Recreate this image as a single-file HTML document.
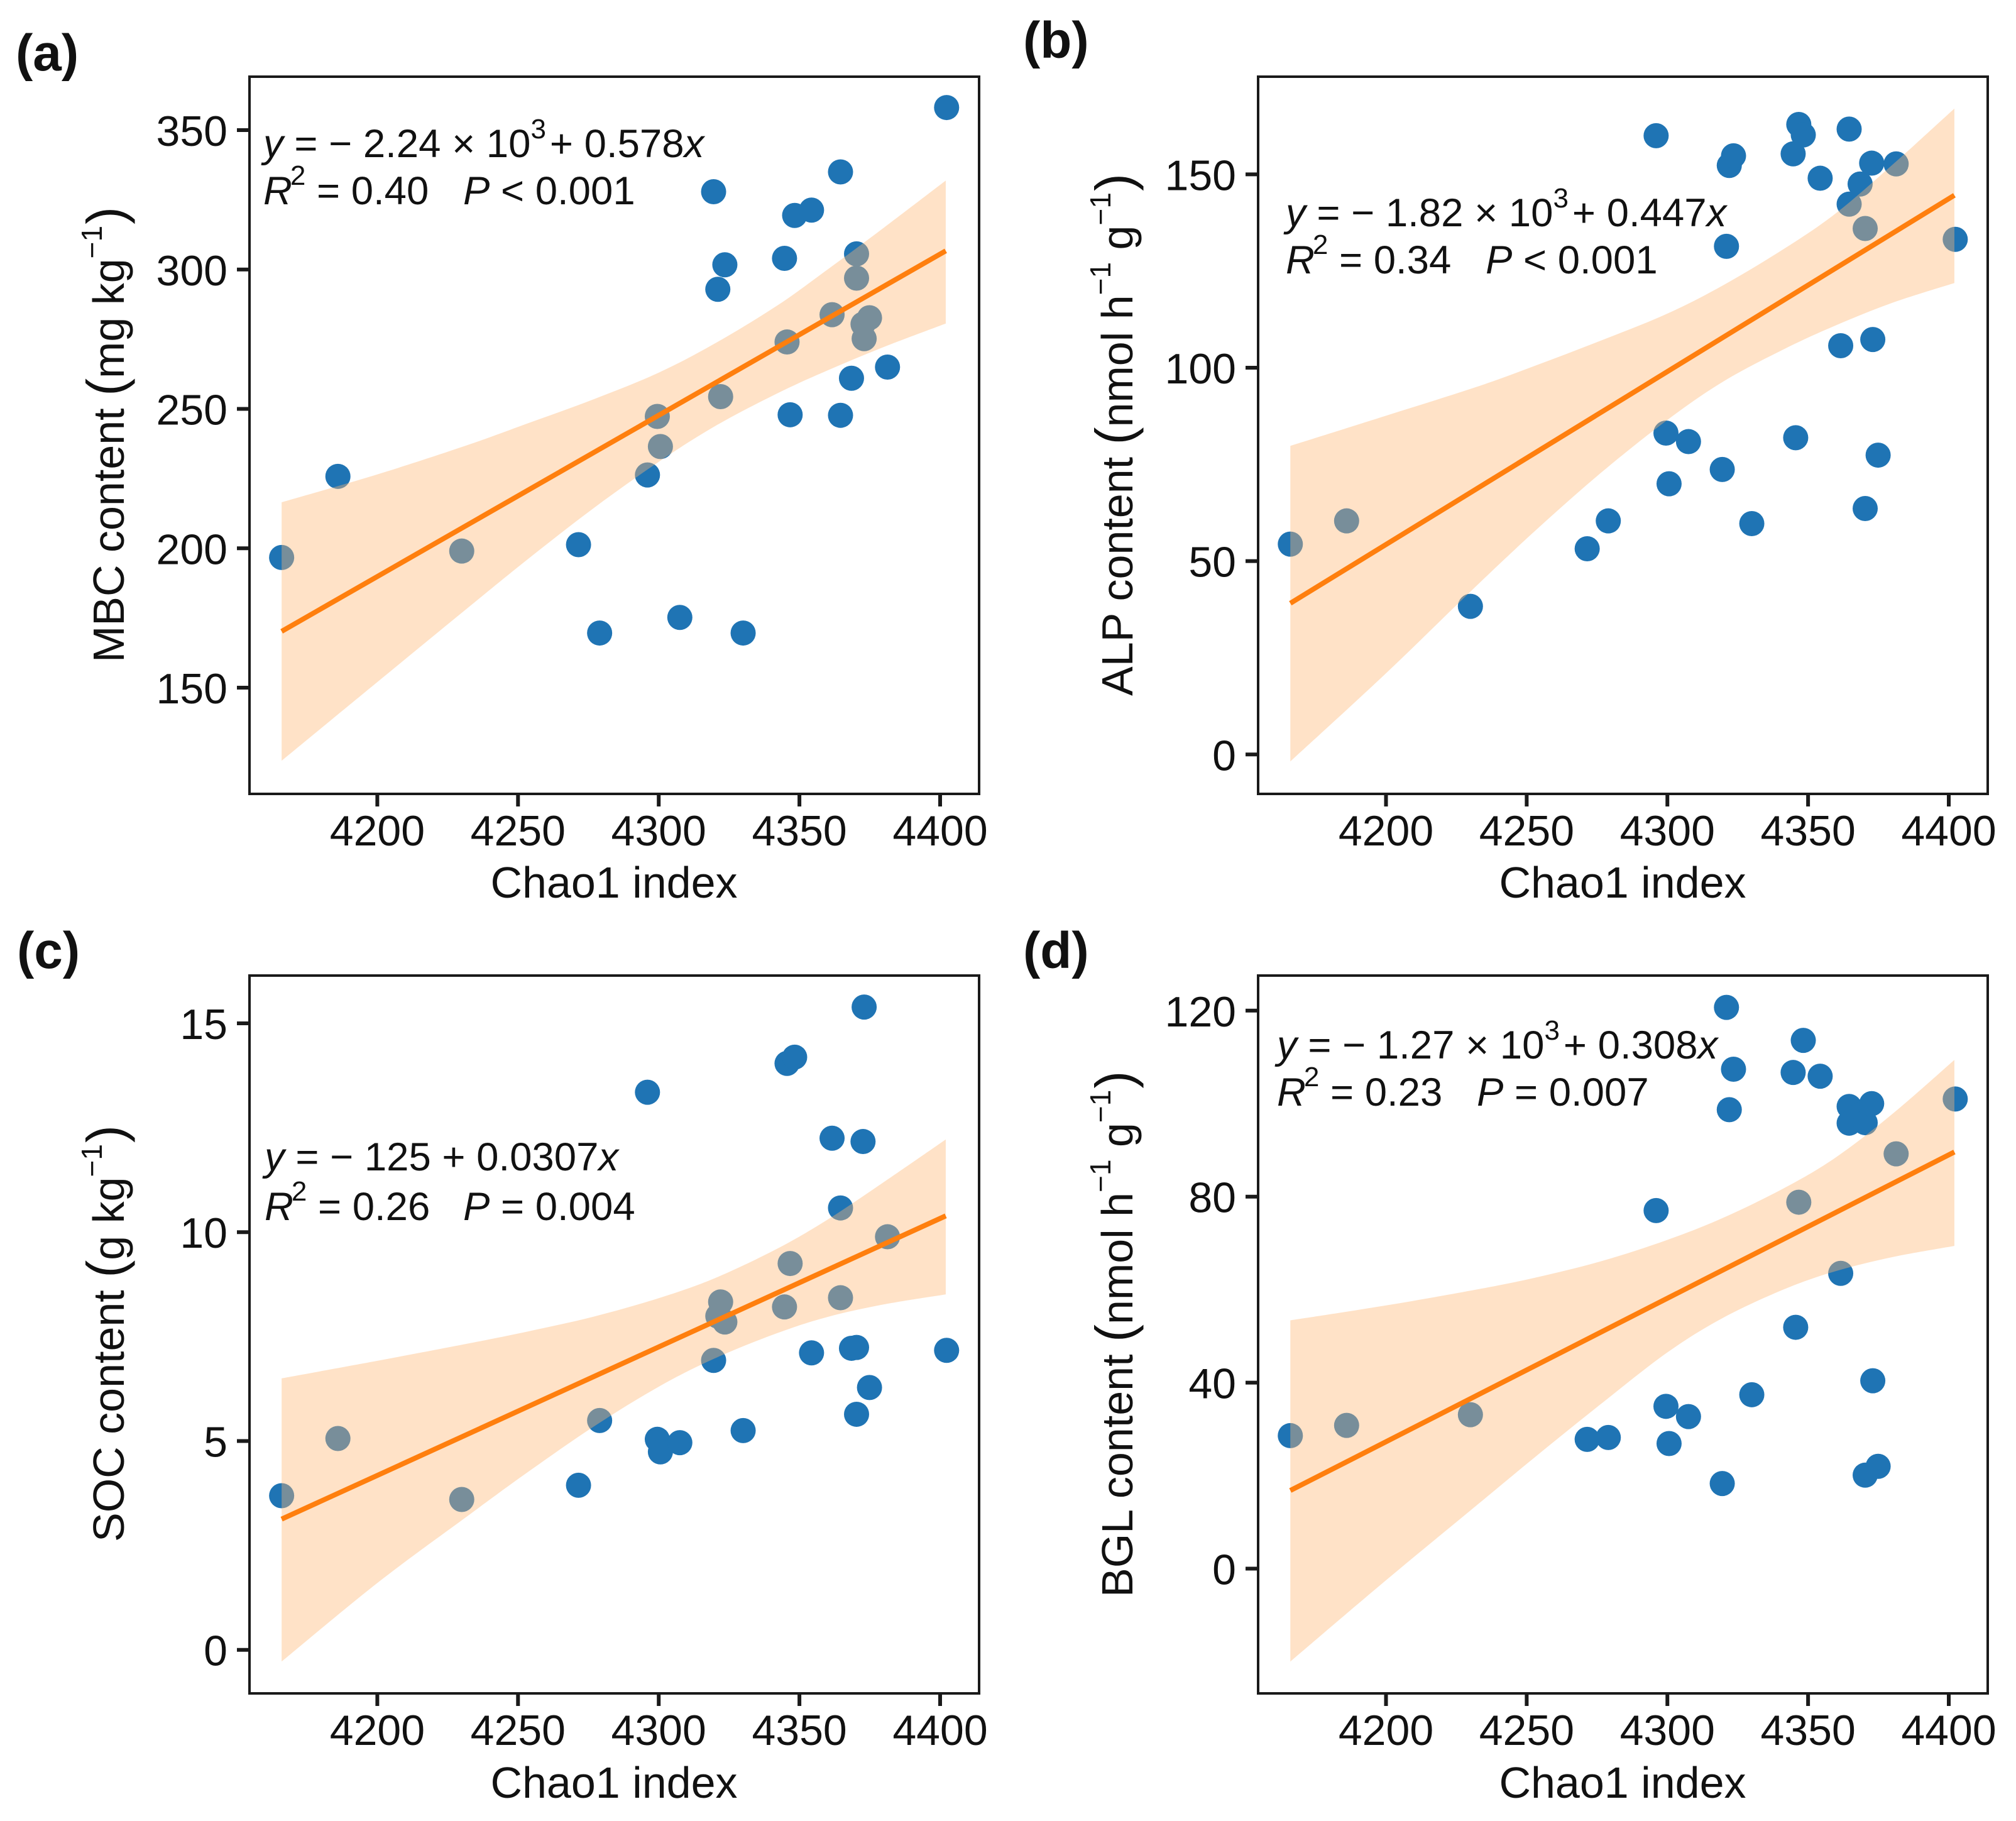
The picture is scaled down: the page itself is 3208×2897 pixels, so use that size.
<!DOCTYPE html>
<html lang="en">
<head>
<meta charset="utf-8">
<title>Chao1 index regressions</title>
<style>
html,body{margin:0;padding:0;background:#fff;}
svg{display:block;}
text{font-family:"Liberation Sans",Arial,sans-serif;fill:#111;}
.tick{font-size:68px;}
.axl{font-size:70px;}
.eq{font-size:63.5px;}
.let{font-size:82px;font-weight:bold;}
.i{font-style:italic;}
.sup{font-size:44px;}
.asup{font-size:46px;}
.par{font-size:84px;}
</style>
</head>
<body>
<svg id="chart" xmlns="http://www.w3.org/2000/svg" width="3208" height="2897" viewBox="0 0 3208 2897">
<rect width="3208" height="2897" fill="#fff"/>

<g id="panel-a"></g>
<g id="panel-b"></g>
<g id="panel-c"></g>
<g id="panel-d"></g>

<text class="let" x="25" y="112">(a)</text>
<text class="let" x="1628" y="92">(b)</text>
<text class="let" x="27" y="1540">(c)</text>
<text class="let" x="1628" y="1540">(d)</text>

<text class="axl" x="977" y="1428" text-anchor="middle">Chao1 index</text>
<text class="axl" x="2582" y="1428" text-anchor="middle">Chao1 index</text>
<text class="axl" x="977" y="2860" text-anchor="middle">Chao1 index</text>
<text class="axl" x="2582" y="2860" text-anchor="middle">Chao1 index</text>

<text class="axl" transform="translate(197,1054) rotate(-90)">MBC content <tspan class="par">(</tspan>mg kg<tspan class="asup" dy="-35">−1</tspan><tspan class="par" dy="35" dx="2">)</tspan></text>
<text class="axl" transform="translate(1802,1107) rotate(-90)">ALP content <tspan class="par">(</tspan>nmol h<tspan class="asup" dy="-35">−1</tspan><tspan dy="35"> g</tspan><tspan class="asup" dy="-35">−1</tspan><tspan class="par" dy="35" dx="2">)</tspan></text>
<text class="axl" transform="translate(197,2453) rotate(-90)">SOC content <tspan class="par">(</tspan>g kg<tspan class="asup" dy="-35">−1</tspan><tspan class="par" dy="35" dx="2">)</tspan></text>
<text class="axl" transform="translate(1802,2541) rotate(-90)">BGL content <tspan class="par">(</tspan>nmol h<tspan class="asup" dy="-35">−1</tspan><tspan dy="35"> g</tspan><tspan class="asup" dy="-35">−1</tspan><tspan class="par" dy="35" dx="2">)</tspan></text>

<text class="eq" x="419" y="250"><tspan class="i">y</tspan> = − 2.24 × 10<tspan class="sup" dy="-30">3</tspan><tspan dy="30" dx="6">+ 0.578</tspan><tspan class="i">x</tspan></text>
<text class="eq" x="419" y="325"><tspan class="i">R</tspan><tspan class="sup" dy="-31" dx="-3">2</tspan><tspan dy="31"> = 0.40</tspan><tspan class="i" x="737">P</tspan> &lt; 0.001</text>

<text class="eq" x="2046" y="360"><tspan class="i">y</tspan> = − 1.82 × 10<tspan class="sup" dy="-30">3</tspan><tspan dy="30" dx="6">+ 0.447</tspan><tspan class="i">x</tspan></text>
<text class="eq" x="2046" y="435"><tspan class="i">R</tspan><tspan class="sup" dy="-31" dx="-3">2</tspan><tspan dy="31"> = 0.34</tspan><tspan class="i" x="2364">P</tspan> &lt; 0.001</text>

<text class="eq" x="421" y="1862"><tspan class="i">y</tspan> = − 125 + 0.0307<tspan class="i">x</tspan></text>
<text class="eq" x="421" y="1941"><tspan class="i">R</tspan><tspan class="sup" dy="-31" dx="-3">2</tspan><tspan dy="31"> = 0.26</tspan><tspan class="i" x="737">P</tspan> = 0.004</text>

<text class="eq" x="2032" y="1684"><tspan class="i">y</tspan> = − 1.27 × 10<tspan class="sup" dy="-30">3</tspan><tspan dy="30" dx="6">+ 0.308</tspan><tspan class="i">x</tspan></text>
<text class="eq" x="2032" y="1759"><tspan class="i">R</tspan><tspan class="sup" dy="-31" dx="-3">2</tspan><tspan dy="31"> = 0.23</tspan><tspan class="i" x="2350">P</tspan> = 0.007</text>
</svg>

<script>
const chao1 = [4166,4186,4230,4271.5,4279,4296,4299.5,4300.6,4307.5,4319.5,4321,4322,4323.5,4330,4344.7,4345.6,4346.7,4348.3,4354.3,4361.6,4364.6,4364.6,4368.5,4370.3,4370.3,4372.6,4373,4374.9,4381.3,4402.3];
const mbc = [196.7,225.8,199,201.3,169.6,226.3,247.3,236.5,175.2,327.9,292.9,254.4,301.7,169.6,304,274,247.9,319.4,321.3,283.8,335,247.7,261,305.6,296.9,280.4,275.2,282.7,265,358.1];
const alp = [54.4,60.4,38.3,53.2,60.4,160,83.1,70,80.9,73.7,131.4,152.3,154.8,59.7,155.3,81.9,162.9,160.2,149,105.7,161.7,142.3,147.5,136,63.6,152.9,107.3,77.4,152.7,133.2];
const soc = [3.69,5.06,3.6,3.94,5.49,13.35,5.04,4.74,4.96,6.93,7.99,8.33,7.85,5.25,8.21,14.04,9.25,14.19,7.11,12.25,10.58,8.43,7.22,7.24,5.64,12.17,15.39,6.28,9.89,7.17];
const bgl = [28.6,30.8,33.1,27.8,28.2,77,34.9,26.9,32.7,18.3,120.7,98.7,107.4,37.4,106.7,51.9,78.8,113.6,105.9,63.5,99.4,95.8,97.7,95.9,20.1,100,40.4,22,89.2,101];

const fitX = [4166,4402];
const mbcFit = [170.2,306.7];
const alpFit = [39.1,144.6];
const socFit = [3.13,10.39];
const bglFit = [16.8,89.6];

const ciX = [4166,4200,4232,4254,4277,4300,4320,4342,4360,4380,4402];
const mbcUpper = [216.5,226.5,237,245,253.5,263,273.5,287,300,315,331.9];
const mbcLower = [123.8,152,178.5,196.5,214.5,231,243.8,255.5,263.8,272.2,280.6];
const alpUpper = [79.8,87.6,95,100.8,107.2,114,121.4,131,140,152.5,167];
const alpLower = [-1.8,21,43.5,58.5,73.2,86.5,96.5,105,111,116.8,121.9];
const socUpper = [6.5,6.92,7.33,7.63,7.98,8.42,8.9,9.6,10.3,11.2,12.22];
const socLower = [-0.28,1.6,3.2,4.28,5.35,6.3,6.98,7.58,7.97,8.27,8.51];
const bglUpper = [53.4,56.6,60,62.7,66.2,70.7,75.5,82,88.5,97.8,109.4];
const bglLower = [-20,-2.5,13.5,24.5,35.7,46.5,54,60.2,64,67,69.4];

const xTicks = [4200,4250,4300,4350,4400];
const mbcTicks = [150,200,250,300,350];
const alpTicks = [0,50,100,150];
const socTicks = [0,5,10,15];
const bglTicks = [0,40,80,120];

const NS = 'http://www.w3.org/2000/svg';
function make(parent, tag, attrs) {
  const el = document.createElementNS(NS, tag);
  for (const k in attrs) el.setAttribute(k, attrs[k]);
  parent.appendChild(el);
  return el;
}
function linear(d0, p0, d1, p1) {
  return function (v) { return p0 + (v - d0) * (p1 - p0) / (d1 - d0); };
}
function smoothSegment(pts) {
  let d = '';
  for (let i = 0; i < pts.length - 1; i++) {
    const p0 = pts[Math.max(i - 1, 0)];
    const p1 = pts[i];
    const p2 = pts[i + 1];
    const p3 = pts[Math.min(i + 2, pts.length - 1)];
    const c1x = p1[0] + (p2[0] - p0[0]) / 6;
    const c1y = p1[1] + (p2[1] - p0[1]) / 6;
    const c2x = p2[0] - (p3[0] - p1[0]) / 6;
    const c2y = p2[1] - (p3[1] - p1[1]) / 6;
    d += ' C' + c1x + ' ' + c1y + ' ' + c2x + ' ' + c2y + ' ' + p2[0] + ' ' + p2[1];
  }
  return d;
}

function drawPanel(id, box, xAxis, yAxis, values, upper, lower, fit, yTicks) {
  const g = document.getElementById(id);
  const sx = linear(xAxis[0], xAxis[1], xAxis[2], xAxis[3]);
  const sy = linear(yAxis[0], yAxis[1], yAxis[2], yAxis[3]);

  chao1.forEach(function (x, i) {
    const dot = make(g, 'circle', {cx: sx(x), cy: sy(values[i]), r: 20, fill: '#1f74b4'});
    
    
  });

  const top = ciX.map(function (x, i) { return [sx(x), sy(upper[i])]; });
  const bottom = ciX.map(function (x, i) { return [sx(x), sy(lower[i])]; }).reverse();
  const bandPath = 'M' + top[0][0] + ' ' + top[0][1] + smoothSegment(top) + ' L' + bottom[0][0] + ' ' + bottom[0][1] + smoothSegment(bottom) + ' Z';
  const band = make(g, 'path', {d: bandPath, fill: 'rgb(255,183,115)', 'fill-opacity': 0.4});
  
  

  const line = make(g, 'line', {x1: sx(fitX[0]), y1: sy(fit[0]), x2: sx(fitX[1]), y2: sy(fit[1]), stroke: '#ff7f0e', 'stroke-width': 8});
  
  

  const frame = make(g, 'rect', {x: box.l, y: box.t, width: box.r - box.l, height: box.b - box.t, fill: 'none', stroke: '#1a1a1a', 'stroke-width': 4});
  
  

  xTicks.forEach(function (v) {
    const tick = make(g, 'line', {x1: sx(v), x2: sx(v), y1: box.b, y2: box.b + 20, stroke: '#1a1a1a', 'stroke-width': 6});
    
    
    const label = make(g, 'text', {x: sx(v), y: box.b + 82, 'text-anchor': 'middle', 'class': 'tick'});
    
    
    label.textContent = String(v);
  });

  yTicks.forEach(function (v) {
    const tick = make(g, 'line', {x1: box.l - 20, x2: box.l, y1: sy(v), y2: sy(v), stroke: '#1a1a1a', 'stroke-width': 6});
    
    
    const label = make(g, 'text', {x: box.l - 35, y: sy(v) + 25, 'text-anchor': 'end', 'class': 'tick'});
    
    
    label.textContent = String(v);
  });
}

drawPanel('panel-a', {l: 397, r: 1558, t: 122, b: 1263}, [4200, 600.4, 4400, 1496], [350, 207, 150, 1094], mbc, mbcUpper, mbcLower, mbcFit, mbcTicks);
drawPanel('panel-b', {l: 2002, r: 3163, t: 122, b: 1263}, [4200, 2205.5, 4400, 3101], [150, 277.4, 0, 1200.3], alp, alpUpper, alpLower, alpFit, alpTicks);
drawPanel('panel-c', {l: 397, r: 1558, t: 1552, b: 2694}, [4200, 600.4, 4400, 1496], [15, 1628, 0, 2624.7], soc, socUpper, socLower, socFit, socTicks);
drawPanel('panel-d', {l: 2002, r: 3163, t: 1552, b: 2694}, [4200, 2205.5, 4400, 3101], [120, 1607.8, 0, 2495.5], bgl, bglUpper, bglLower, bglFit, bglTicks);
</script>
</body>
</html>
